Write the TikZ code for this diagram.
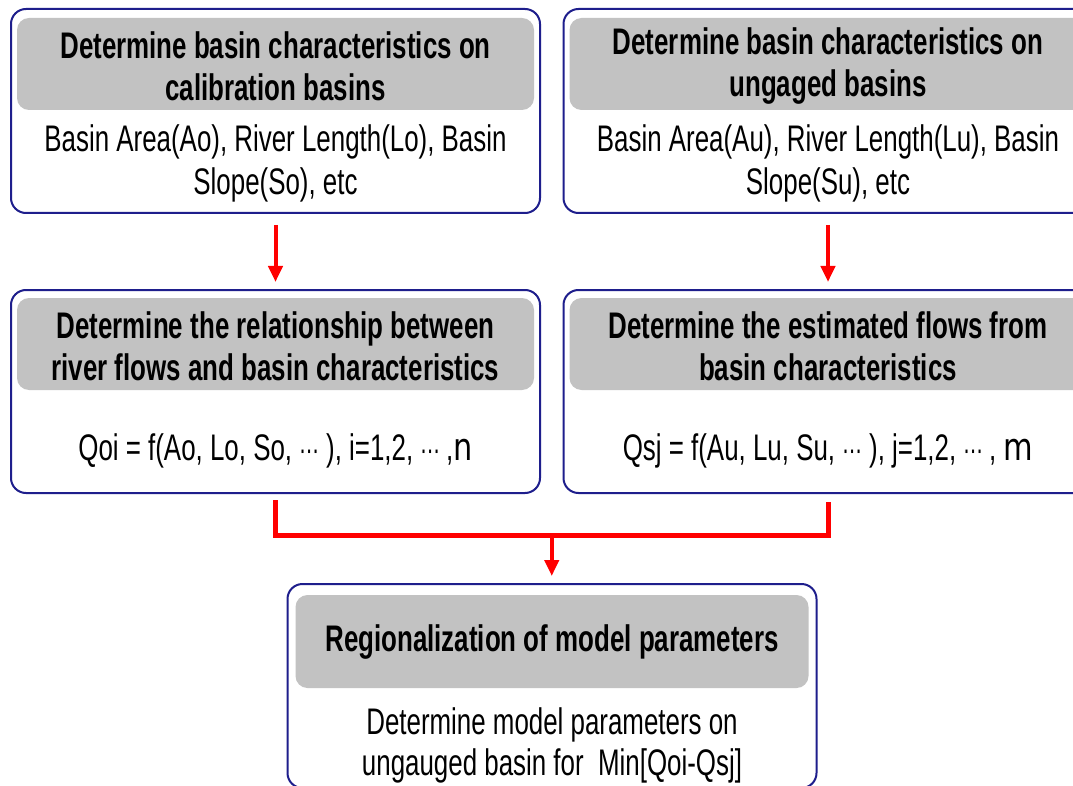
\documentclass[tikz,border=0pt]{standalone}
\usepackage{fontspec}
\setmainfont[FakeStretch=0.70]{Liberation Sans}
\newfontfamily\dotsfont[FakeStretch=0.70]{DejaVu Sans}
\newfontfamily\thinfont[FakeStretch=0.80]{DejaVu Sans}
\usetikzlibrary{arrows.meta,calc}
\definecolor{navy}{RGB}{30,30,140}
\definecolor{hdrgray}{RGB}{194,194,194}
\definecolor{arrred}{RGB}{255,0,0}
\newcommand{\cdts}{{\dotsfont\fontsize{28}{28}\selectfont ⋯}}
\begin{document}
\begin{tikzpicture}[x=1pt,y=-1pt,
  outerbox/.style={draw=navy, line width=2pt, rounded corners=15pt, minimum width=529pt, minimum height=204pt, inner sep=0pt, fill=white},
  hdrbox/.style={fill=hdrgray, rounded corners=12pt, minimum width=517pt, minimum height=92pt, inner sep=0pt},
  hdrtext/.style={font=\fontsize{37}{42}\selectfont\bfseries, align=center, inner sep=0pt},
  bodytext/.style={font=\fontsize{37}{43}\selectfont, align=center, inner sep=0pt},
  redarrow/.style={draw=arrred, line width=4pt, -{Triangle[width=14pt,length=16pt]}},
  bracket/.style={draw=arrred, line width=5pt, line join=miter}]
\useasboundingbox (0,0) rectangle (1073,786);
\clip (0,0) rectangle (1073,786);
\fill[white] (0,0) rectangle (1073,786);

% top row
\node[outerbox] (b1) at (275.5,111) {};
\node[hdrbox] (h1) at (275.5,64) {};
\node[hdrtext] (t1) at (275.5,66) {Determine basin characteristics on\\calibration basins};
\node[bodytext] (d1) at (275.5,163) {Basin Area(Ao), River Length(Lo), Basin\\Slope(So), etc};

\node[outerbox] (b2) at (828,111) {};
\node[hdrbox] (h2) at (828,64) {};
\node[hdrtext] (t2) at (828,66) {Determine basin characteristics on\\ungaged basins};
\node[bodytext] (d2) at (828,163) {Basin Area(Au), River Length(Lu), Basin\\Slope(Su), etc};

% middle row
\node[outerbox, minimum height=203pt] (b3) at (275.5,391.5) {};
\node[hdrbox] (h3) at (275.5,344) {};
\node[hdrtext] (t3) at (275.5,346) {Determine the relationship between\\river flows and basin characteristics};
\node[bodytext] (d3) at (275.5,451) {Qoi = f(Ao, Lo, So, \cdts\ ), i=1,2, \cdts\,,{\thinfont\fontsize{38}{38}\selectfont n}};

\node[outerbox, minimum height=203pt] (b4) at (828,391.5) {};
\node[hdrbox] (h4) at (828,344) {};
\node[hdrtext] (t4) at (828,346) {Determine the estimated flows from\\basin characteristics};
\node[bodytext] (d4) at (828,451) {Qsj = f(Au, Lu, Su, \cdts\ ), j=1,2, \cdts\,,\ {\thinfont\fontsize{38}{38}\selectfont m}};

% bottom
\node[outerbox] (b5) at (552,686) {};
\node[hdrbox, minimum width=513pt, minimum height=93pt] (h5) at (552,641.5) {};
\node[hdrtext] (t5) at (552,642) {Regionalization of model parameters};
\node[bodytext, font=\fontsize{37}{41}\selectfont] (d5) at (552,745) {Determine model parameters on\\ungauged basin for\ \ Min[Qoi-Qsj]};

% connectors
\draw[redarrow, shorten <=11pt, shorten >=7pt] (b1.south) -- (b3.north);
\draw[redarrow, shorten <=11pt, shorten >=7pt] (b2.south) -- (b4.north);
\coordinate (jl) at ($(b3.south)+(0,41)$);
\coordinate (jr) at (jl -| b4.south);
\draw[bracket, shorten <=6pt, shorten >=8pt] (b3.south) -- (jl) -- (jr) -- (b4.south);
\coordinate (jm) at ($(jl)!0.5!(jr)$);
\draw[redarrow, shorten >=7pt] (jm) -- (jm |- b5.north);
\end{tikzpicture}
\end{document}
